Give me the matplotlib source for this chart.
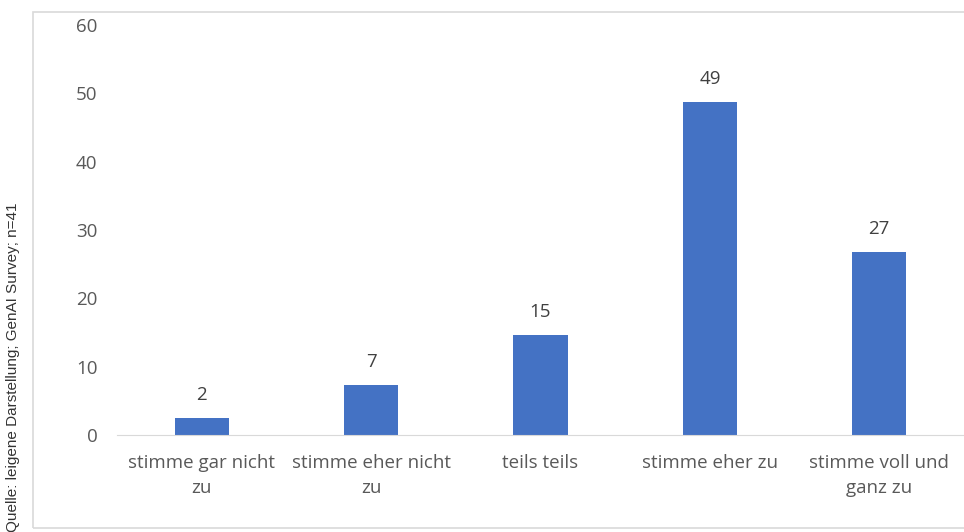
import matplotlib.pyplot as plt
from matplotlib.patches import Rectangle

# Survey answers (n=41), shown as percent
categories = ['stimme gar nicht\nzu', 'stimme eher nicht\nzu', 'teils teils',
              'stimme eher zu', 'stimme voll und\nganz zu']
counts = [1, 3, 6, 20, 11]
n_total = 41
percent = [c / n_total * 100 for c in counts]
yticks = [0, 10, 20, 30, 40, 50, 60]
source = 'Quelle: leigene Darstellung; GenAI Survey; n=41'

plt.rcParams['font.family'] = ['Open Sans', 'DejaVu Sans']

fig = plt.figure(figsize=(9.64, 5.32), dpi=100)
ax = fig.add_axes([117 / 964, 1 - 435 / 532, 847 / 964, 410 / 532])

x = range(len(categories))
ax.bar(x, percent, width=0.32, color='#4472c4')
for xi, p in zip(x, percent):
    ax.annotate(f'{p:.0f}', (xi, p), xytext=(0, 10), textcoords='offset points',
                ha='center', va='bottom', fontsize=13.5, color='#404040')

ax.set_xlim(-0.5, len(categories) - 0.5)
ax.set_ylim(0, 60)
ax.set_yticks(yticks)
ax.set_xticks(list(x))
ax.set_xticklabels(categories, linespacing=1.45)
ax.tick_params(axis='both', length=0, labelsize=13.5, labelcolor='#595959')
ax.tick_params(axis='x', pad=14)
ax.tick_params(axis='y', pad=14)
for side in ['top', 'right', 'left']:
    ax.spines[side].set_visible(False)
ax.spines['bottom'].set_color('#d9d9d9')

# light frame around the chart area
fig.patches.append(Rectangle((33 / 964, 1 - 528 / 532), 0.99, 516 / 532,
                             transform=fig.transFigure, fill=False,
                             edgecolor='#d9d9d9', linewidth=1.2))

fig.text(13 / 964, 0.0, source, rotation=90, ha='center', va='bottom',
         fontsize=11, color='#333333', family=['Liberation Sans', 'DejaVu Sans'])

fig.savefig('out.png', dpi=100)
